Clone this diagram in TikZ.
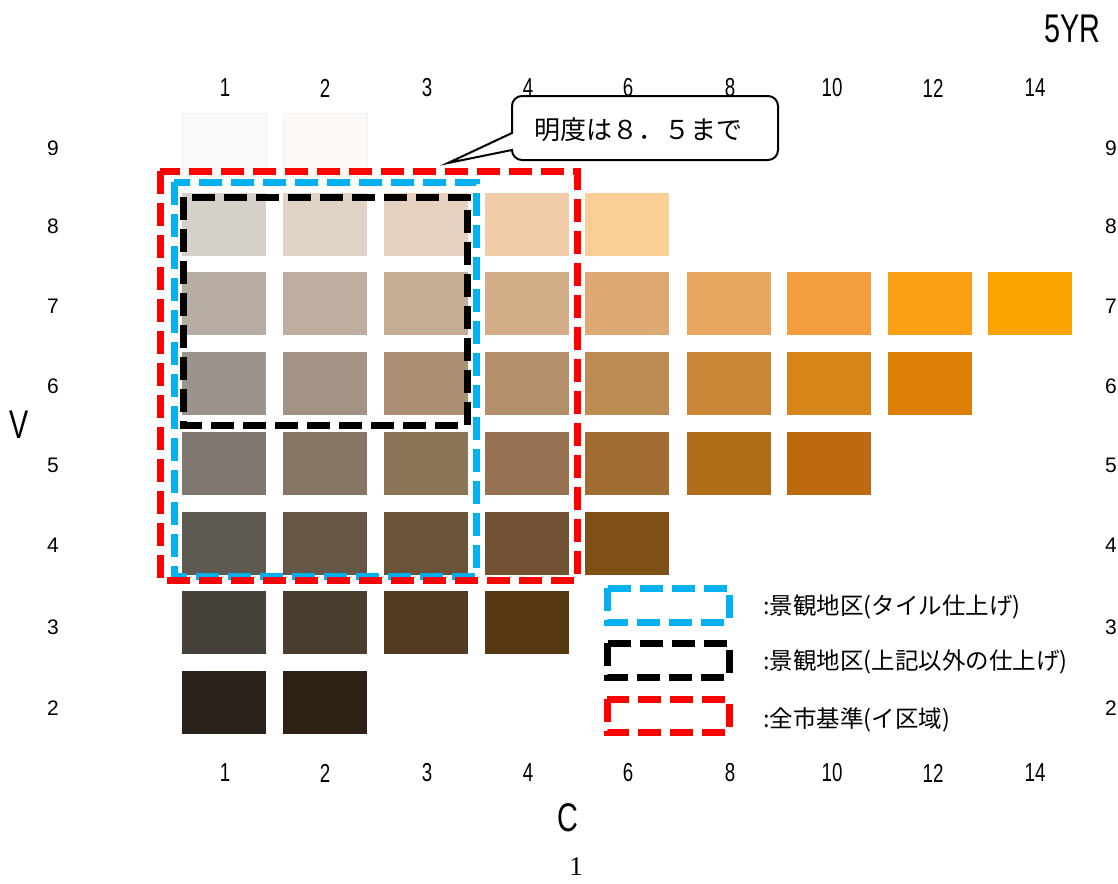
\documentclass[tikz,border=0pt]{standalone}
\usepackage{fontspec}
\setmainfont{Liberation Sans}
\newfontfamily\narrowfont[FakeStretch=0.72]{Liberation Sans}
\newfontfamily\jpfont{Noto Sans CJK JP}
\newfontfamily\pagefont{Liberation Serif}
\definecolor{zoneblue}{HTML}{00B0F0}
\definecolor{zonered}{HTML}{FF0000}

\begin{document}
\begin{tikzpicture}[x=1pt,y=-1pt,
  tile/.style={minimum width=84pt,minimum height=63pt,inner sep=0pt,outer sep=0pt},
  axisnum/.style={font=\narrowfont\fontsize{26}{26}\selectfont,inner sep=0pt},
  rownum/.style={font=\fontsize{21}{21}\selectfont,inner sep=0pt},
  axisname/.style={font=\narrowfont\fontsize{40}{40}\selectfont,inner sep=0pt},
  zone/.style={line width=7pt,dash pattern=on 23pt off 9pt},
  legendtext/.style={font=\jpfont\fontsize{23.5}{23.5}\selectfont,anchor=west,inner sep=0pt},
  notetext/.style={font=\jpfont\fontsize{26}{26}\selectfont,inner sep=0pt}]
\useasboundingbox (0,0) rectangle (1118,883);
\fill[white] (0,0) rectangle (1118,883);

% colour chips: value / chroma / x centre / colour
\foreach \r/\c/\x/\h in {
  9/1/224/FCFAF9, 9/2/325/FCF9F7,
  8/1/224/D6D0CA, 8/2/325/E0D2C5, 8/3/426/E8D1BE, 8/4/527/F2CDAA, 8/6/627/F9CE97,
  7/1/224/B7ADA4, 7/2/325/BFAE9F, 7/3/426/C6AC94, 7/4/527/D3AD88, 7/6/627/DDA874,
  7/8/729/E9A65E, 7/10/829/F29E3E, 7/12/930/F9A012, 7/14/1030/FBA100,
  6/1/224/9C948C, 6/2/325/A39384, 6/3/426/AB9075, 6/4/527/B38F6C, 6/6/627/BD8C54,
  6/8/729/CB8536, 6/10/829/D68518, 6/12/930/DE7F05,
  5/1/224/7F7770, 5/2/325/857666, 5/3/426/8C7459, 5/4/527/977252, 5/6/627/A16C32,
  5/8/729/B06C16, 5/10/829/BD6A0E,
  4/1/224/5F5A51, 4/2/325/665646, 4/3/426/6C5339, 4/4/527/725234, 4/6/627/7E5018,
  3/1/224/45403A, 3/2/325/4A3D2D, 3/3/426/533B23, 3/4/527/573815,
  2/1/224/2B241C, 2/2/325/2F2214}{
  \definecolor{tilecol}{HTML}{\h}
  \pgfmathsetmacro\y{144.5+(9-\r)*79.7}
  \node[tile,fill=tilecol] (t\r c\c) at (\x,\y) {};
}
\draw[black!6,line width=0.8pt] (t9c1.north west) rectangle (t9c1.south east);
\draw[black!6,line width=0.8pt] (t9c2.north west) rectangle (t9c2.south east);

% chroma scale, top and bottom
\foreach \c/\x in {1/225,2/325,3/427,4/528,6/628,8/730,10/832,12/933,14/1035}{
  \node[axisnum] (top\c) at (\x,88) {\c};
  \node[axisnum] (bot\c) at (\x,773) {\c};
}
% value scale, left and right
\foreach \r/\y in {9/148,8/226,7/306,6/386,5/465,4/545,3/627,2/708}{
  \node[rownum] (left\r) at (53,\y) {\r};
  \node[rownum] (right\r) at (1111,\y) {\r};
}

\node[axisname] (hue) at (1072,29) {5YR};
\node[axisname] (vname) at (19,425) {V};
\node[axisname] (cname) at (568,818) {C};
\node[font=\pagefont\fontsize{27}{27}\selectfont,inner sep=0pt] (page) at (576,867) {1};

% permitted ranges
\draw[zone,zoneblue] (174,182) rectangle (476,576);
\draw[zone,black] (183,197) rectangle (467,425);
\draw[zone,zonered] (160,171) rectangle (577,580);

% note balloon
\draw[line width=2pt,fill=white] (512,133) [rounded corners=10pt]-- (512,96) -- (778,96)
  -- (778,160) -- (512,160) [sharp corners]-- (512,150) -- (448,163) -- cycle;
\node[notetext] (note) at (638,130) {明度は８．５まで};

% legend
\draw[zone,zoneblue] (607,588) rectangle (729,622);
\draw[zone,black] (607,643) rectangle (729,677);
\draw[zone,zonered] (607,699) rectangle (729,732);
\node[legendtext] (lg1) at (763,607) {:景観地区(タイル仕上げ)};
\node[legendtext] (lg2) at (763,662) {:景観地区(上記以外の仕上げ)};
\node[legendtext] (lg3) at (763,720) {:全市基準(イ区域)};
\end{tikzpicture}
\end{document}
